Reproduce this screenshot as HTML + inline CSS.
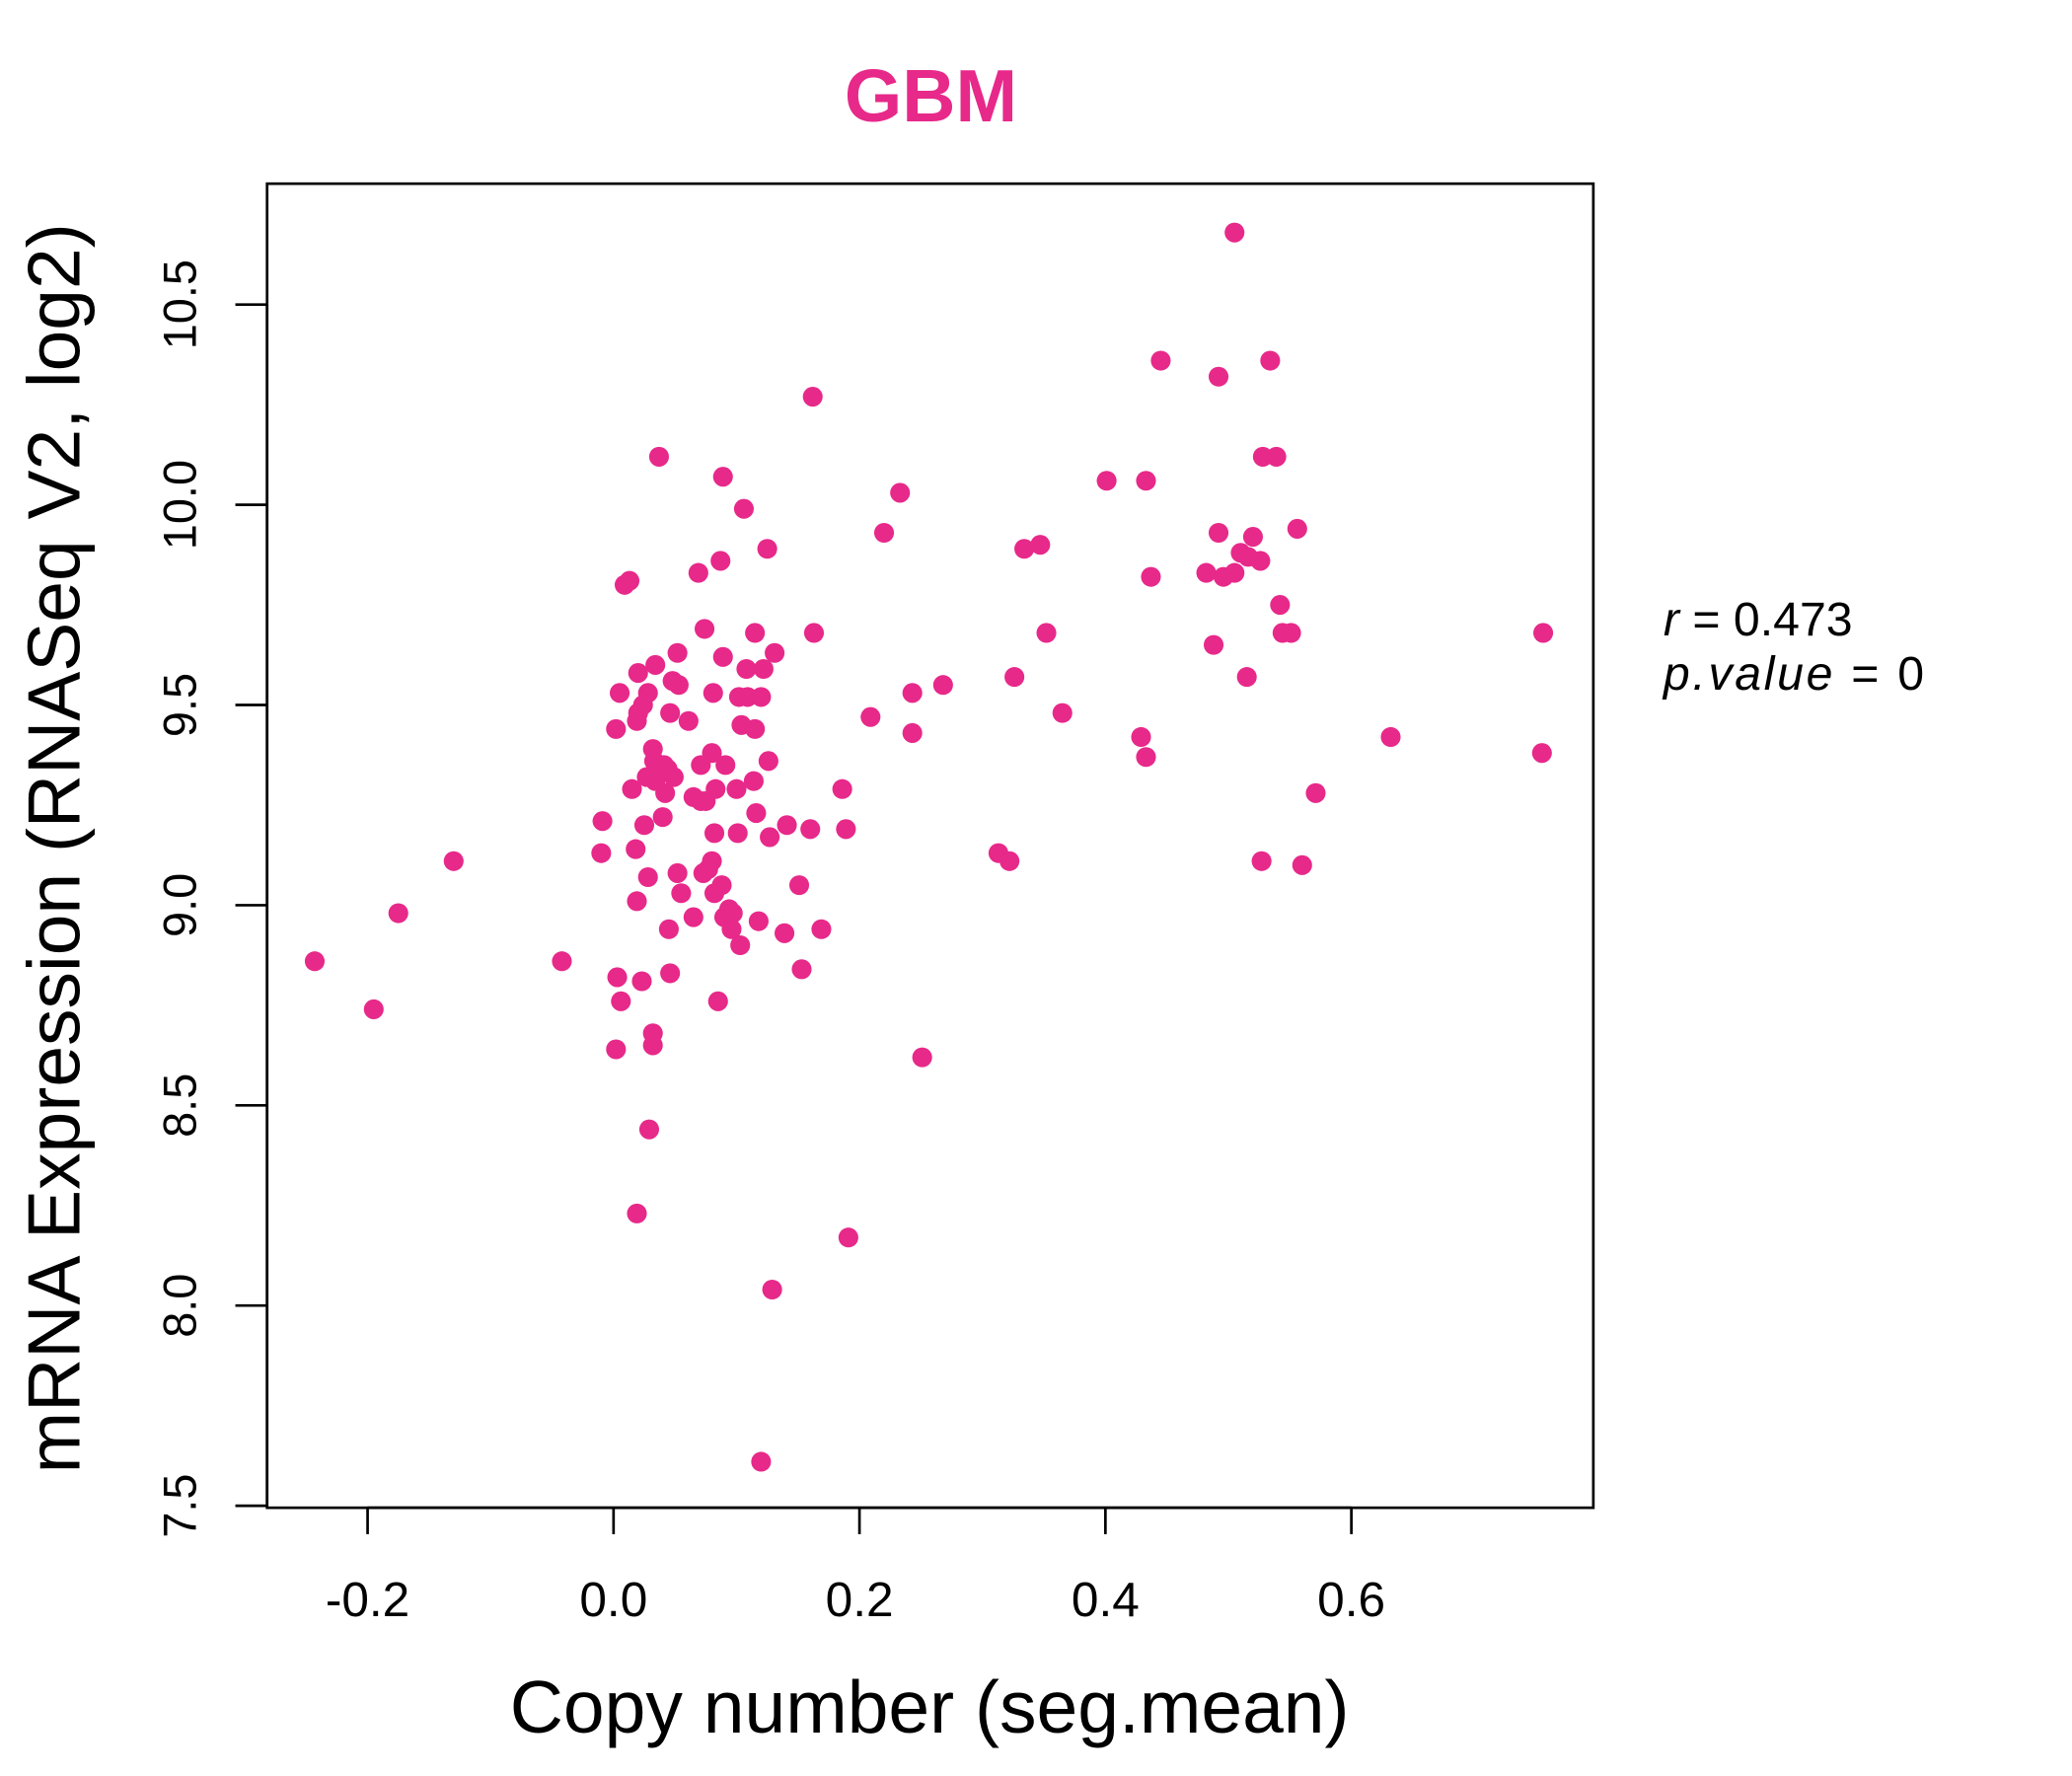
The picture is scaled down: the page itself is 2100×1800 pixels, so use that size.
<!DOCTYPE html>
<html><head><meta charset="utf-8"><style>
html,body{margin:0;padding:0;background:#fff;}
svg{display:block;font-family:"Liberation Sans",Arial,sans-serif;}
</style></head><body>
<svg id="chart" width="2100" height="1800" viewBox="0 0 1567 1344" preserveAspectRatio="none" xmlns="http://www.w3.org/2000/svg">
<rect width="1567" height="1344" fill="#fff"/>
<text x="704" y="92" text-anchor="middle" font-size="56" font-weight="bold" fill="#E7298A">GBM</text>
<rect x="202" y="139" width="1003" height="1002" fill="none" stroke="#000" stroke-width="2"/>
<g id="xaxis"></g>
<g id="yaxis"></g>
<g id="points"></g>
<text x="703" y="1311" text-anchor="middle" font-size="56">Copy number (seg.mean)</text>
<text transform="translate(60,642) rotate(-90)" text-anchor="middle" font-size="56">mRNA Expression (RNASeq V2, log2)</text>
<text x="1258" y="481" font-size="36"><tspan font-style="italic">r</tspan> = 0.473</text>
<text x="1258" y="522" font-size="36" letter-spacing="2"><tspan font-style="italic">p.value</tspan> = 0</text>
</svg>
<script>
const xTicks=[-0.2,0.0,0.2,0.4,0.6];
const xTickLabels=["-0.2","0.0","0.2","0.4","0.6"];
const yTicks=[7.5,8.0,8.5,9.0,9.5,10.0,10.5];
const yTickLabels=["7.5","8.0","8.5","9.0","9.5","10.0","10.5"];
const copyNumber=[-0.243,-0.195,-0.175,-0.130,-0.042,-0.009,-0.010,0.002,0.005,0.009,0.013,0.003,0.006,0.002,0.019,0.023,0.019,0.029,0.032,0.032,0.018,0.015,0.019,0.020,0.024,0.020,0.028,0.034,0.037,0.028,0.025,0.027,0.032,0.033,0.034,0.039,0.041,0.042,0.044,0.040,0.046,0.048,0.052,0.053,0.049,0.052,0.055,0.045,0.046,0.061,0.065,0.065,0.069,0.071,0.071,0.073,0.074,0.075,0.077,0.080,0.081,0.082,0.080,0.082,0.083,0.085,0.087,0.088,0.089,0.089,0.090,0.091,0.094,0.096,0.097,0.100,0.101,0.103,0.102,0.106,0.104,0.108,0.109,0.115,0.115,0.116,0.114,0.118,0.120,0.122,0.120,0.125,0.126,0.127,0.131,0.129,0.139,0.141,0.151,0.153,0.160,0.162,0.163,0.169,0.186,0.189,0.191,0.209,0.220,0.233,0.243,0.243,0.251,0.268,0.313,0.322,0.326,0.334,0.347,0.352,0.365,0.401,0.429,0.433,0.433,0.437,0.445,0.482,0.488,0.492,0.492,0.496,0.505,0.505,0.510,0.515,0.516,0.520,0.526,0.528,0.534,0.539,0.542,0.544,0.551,0.556,0.560,0.571,0.527,0.632,0.756,0.755];
const expression=[8.86,8.74,8.98,9.11,8.86,9.21,9.13,9.44,9.53,9.80,9.81,8.82,8.76,8.64,9.01,8.81,8.23,8.44,8.65,8.68,9.14,9.29,9.46,9.48,9.50,9.58,9.53,9.60,10.12,9.07,9.20,9.32,9.39,9.36,9.31,9.34,9.35,9.28,9.34,9.22,9.48,9.56,9.63,9.55,9.32,9.08,9.03,8.94,8.83,9.46,9.27,8.97,9.83,9.35,9.26,9.08,9.69,9.26,9.09,9.38,9.53,9.18,9.11,9.03,9.29,8.76,9.86,9.05,9.62,10.07,8.97,9.35,8.99,8.94,8.98,9.29,9.18,8.90,9.52,9.99,9.45,9.59,9.52,9.68,9.44,9.23,9.31,8.96,9.52,9.59,7.61,9.89,9.36,9.17,9.63,8.04,8.93,9.20,9.05,8.84,9.19,10.27,9.68,8.94,9.29,9.19,8.17,9.47,9.93,10.03,9.53,9.43,8.62,9.55,9.13,9.11,9.57,9.89,9.90,9.68,9.48,10.06,9.42,10.06,9.37,9.82,10.36,9.83,9.65,10.32,9.93,9.82,10.68,9.83,9.88,9.57,9.87,9.92,9.86,10.12,10.36,10.12,9.75,9.68,9.68,9.94,9.10,9.28,9.11,9.42,9.68,9.38];
const NS="http://www.w3.org/2000/svg";
function sx(v){return 464+v*930;}
function sy(v){return 685-(v-9)*303;}
function mk(tag,attrs,parent){const e=document.createElementNS(NS,tag);for(const k in attrs)e.setAttribute(k,attrs[k]);parent.appendChild(e);return e;}
const xa=document.getElementById('xaxis');
mk('line',{x1:sx(xTicks[0]),x2:sx(xTicks[xTicks.length-1]),y1:1141,y2:1141,stroke:'#000','stroke-width':2},xa);
xTicks.forEach((t,i)=>{
  const l=mk('line',{x1:sx(t),x2:sx(t),y1:1141,y2:1161,stroke:'#000','stroke-width':2},xa);
  
  
  const tx=mk('text',{x:sx(t),y:1223,'text-anchor':'middle','font-size':37},xa);
  tx.textContent=xTickLabels[i];
  
  
});
const ya=document.getElementById('yaxis');
mk('line',{x1:202,x2:202,y1:sy(yTicks[0]),y2:sy(yTicks[yTicks.length-1]),stroke:'#000','stroke-width':2},ya);
yTicks.forEach((t,i)=>{
  const l=mk('line',{x1:178,x2:202,y1:sy(t),y2:sy(t),stroke:'#000','stroke-width':2},ya);
  
  
  const tx=mk('text',{transform:'translate(148,'+sy(t)+') rotate(-90)','text-anchor':'middle','font-size':35},ya);
  tx.textContent=yTickLabels[i];
  
  
});
const pg=document.getElementById('points');
copyNumber.forEach((v,i)=>{
  const c=mk('circle',{cx:sx(v),cy:sy(expression[i]),r:7.5,fill:'#E7298A'},pg);
  
  
});
</script>
</body></html>
